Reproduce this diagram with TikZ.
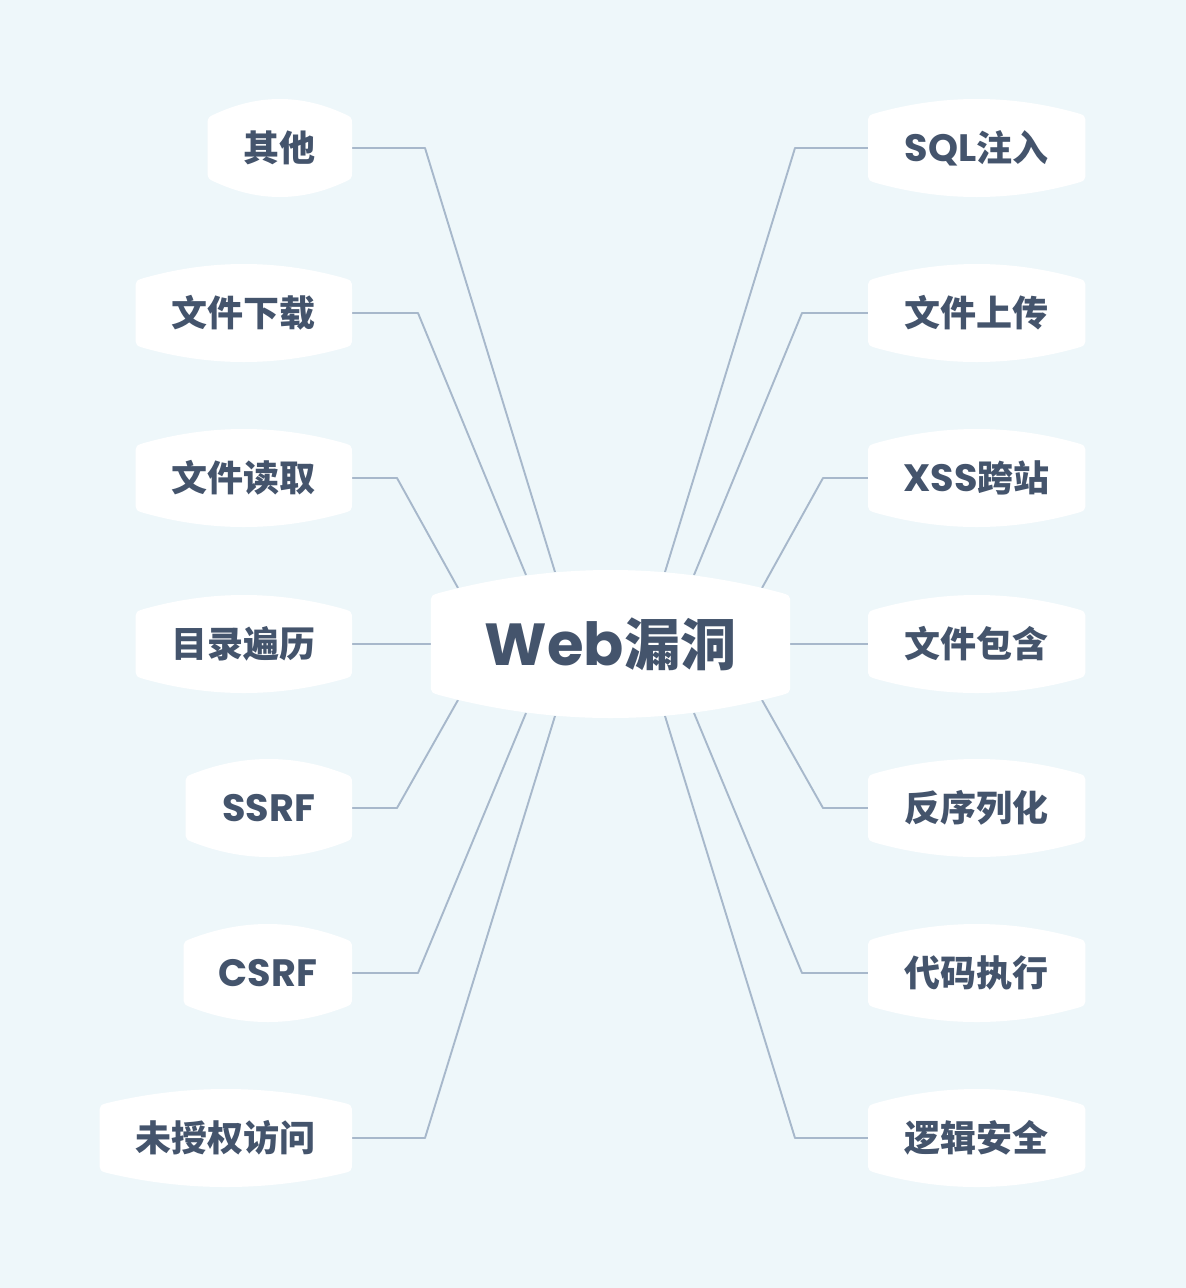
\documentclass[tikz,border=0pt]{standalone}
\usepackage{fontspec}
\newfontfamily\cjk{Noto Sans CJK SC}
\newfontfamily\latfont{Poppins}[Scale=1.06]
\newcommand\ltn[1]{{\latfont\bfseries #1}}
\usetikzlibrary{calc}
\definecolor{bgc}{HTML}{EEF7FA}
\definecolor{txt}{HTML}{44546C}
\definecolor{linec}{HTML}{A7B8CB}
\tikzset{
  lbl/.style={font=\cjk\bfseries\fontsize{36pt}{40pt}\selectfont, text=txt,
    inner xsep=0pt, inner ysep=0pt, minimum height=72pt},
  hubstyle/.style={font=\cjk\bfseries\fontsize{56pt}{60pt}\selectfont, text=txt,
    inner xsep=0pt, inner ysep=0pt, minimum height=104pt, minimum width=359pt},
  link/.style={draw=linec, line width=1.9pt, line join=round},
}
% #1 node name, #2 half height, #3 bulge, #4 corner radius
\newcommand\blob[4]{%
  \fill[white] let \p1=(#1.west), \p2=(#1.east),
    \n1={4*#3/(\x2-\x1-2*#4)}, \n2={(\x2-\x1-2*#4)/3} in
    (\x1,\y1+#2pt-#4pt)
    .. controls (\x1,\y1+#2pt-\n1*#4pt) .. (\x1+#4pt,\y1+#2pt)
    .. controls (\x1+#4pt+\n2*1pt,\y1+#2pt+4*#3pt/3) and (\x2-#4pt-\n2*1pt,\y1+#2pt+4*#3pt/3) .. (\x2-#4pt,\y1+#2pt)
    .. controls (\x2,\y1+#2pt-\n1*#4pt) .. (\x2,\y1+#2pt-#4pt)
    -- (\x2,\y1-#2pt+#4pt)
    .. controls (\x2,\y1-#2pt+\n1*#4pt) .. (\x2-#4pt,\y1-#2pt)
    .. controls (\x2-#4pt-\n2*1pt,\y1-#2pt-4*#3pt/3) and (\x1+#4pt+\n2*1pt,\y1-#2pt-4*#3pt/3) .. (\x1+#4pt,\y1-#2pt)
    .. controls (\x1,\y1-#2pt+\n1*#4pt) .. (\x1,\y1-#2pt+#4pt)
    -- cycle;}
\begin{document}
\begin{tikzpicture}[x=1pt,y=1pt]
\fill[bgc] (0,0) rectangle (1186,-1288);
\useasboundingbox (0,0) rectangle (1186,-1288);
\path
  (610.5,-644) node[hubstyle] (hub) {\phantom{Web漏洞}}
  (352,-148)  node[lbl,anchor=east,minimum width=144pt] (l1) {\phantom{其他}}
  (352,-313)  node[lbl,anchor=east,minimum width=216pt] (l2) {\phantom{文件下载}}
  (352,-478)  node[lbl,anchor=east,minimum width=216pt] (l3) {\phantom{文件读取}}
  (352,-644)  node[lbl,anchor=east,minimum width=216pt] (l4) {\phantom{目录遍历}}
  (352,-808)  node[lbl,anchor=east,minimum width=166pt] (l5) {\phantom{SSRF}}
  (352,-973)  node[lbl,anchor=east,minimum width=168pt] (l6) {\phantom{CSRF}}
  (352,-1138) node[lbl,anchor=east,minimum width=252pt] (l7) {\phantom{未授权访问}}
  (868,-148)  node[lbl,anchor=west,minimum width=217pt] (r1) {\phantom{SQL注入}}
  (868,-313)  node[lbl,anchor=west,minimum width=217pt] (r2) {\phantom{文件上传}}
  (868,-478)  node[lbl,anchor=west,minimum width=217pt] (r3) {\phantom{XSS跨站}}
  (868,-644)  node[lbl,anchor=west,minimum width=217pt] (r4) {\phantom{文件包含}}
  (868,-808)  node[lbl,anchor=west,minimum width=217pt] (r5) {\phantom{反序列化}}
  (868,-973)  node[lbl,anchor=west,minimum width=217pt] (r6) {\phantom{代码执行}}
  (868,-1138) node[lbl,anchor=west,minimum width=217pt] (r7) {\phantom{逻辑安全}};
\coordinate (hL1) at ($(hub.center)+(-55.5,72)$);
\coordinate (hL2) at ($(hub.center)+(-84.5,69)$);
\coordinate (hL3) at ($(hub.center)+(-152.5,56)$);
\coordinate (hL5) at ($(hub.center)+(-152.5,-56)$);
\coordinate (hL6) at ($(hub.center)+(-84.5,-69)$);
\coordinate (hL7) at ($(hub.center)+(-55.5,-72)$);
\coordinate (hR1) at ($(hub.center)+(54.5,72)$);
\coordinate (hR2) at ($(hub.center)+(83.5,69)$);
\coordinate (hR3) at ($(hub.center)+(151.5,56)$);
\coordinate (hR5) at ($(hub.center)+(151.5,-56)$);
\coordinate (hR6) at ($(hub.center)+(83.5,-69)$);
\coordinate (hR7) at ($(hub.center)+(54.5,-72)$);
\draw[link] (l1.east) -- ++(73,0) -- (hL1);
\draw[link] (l2.east) -- ++(66,0) -- (hL2);
\draw[link] (l3.east) -- ++(45,0) -- (hL3);
\draw[link] (l4.east) -- (hub.west);
\draw[link] (l5.east) -- ++(45,0) -- (hL5);
\draw[link] (l6.east) -- ++(66,0) -- (hL6);
\draw[link] (l7.east) -- ++(73,0) -- (hL7);
\draw[link] (r1.west) -- ++(-73,0) -- (hR1);
\draw[link] (r2.west) -- ++(-66,0) -- (hR2);
\draw[link] (r3.west) -- ++(-45,0) -- (hR3);
\draw[link] (r4.west) -- (hub.east);
\draw[link] (r5.west) -- ++(-45,0) -- (hR5);
\draw[link] (r6.west) -- ++(-66,0) -- (hR6);
\draw[link] (r7.west) -- ++(-73,0) -- (hR7);
\blob{hub}{52}{22}{12}
\foreach \nn in {l1,l2,l3,l4,l5,l6,l7,r1,r2,r3,r4,r5,r6,r7}{\blob{\nn}{36}{13}{12}}
\node[hubstyle] at (hub.center) {\ltn{Web}漏洞};
\node[lbl] at (l1.center) {其他};
\node[lbl] at (l2.center) {文件下载};
\node[lbl] at (l3.center) {文件读取};
\node[lbl] at (l4.center) {目录遍历};
\node[lbl] at (l5.center) {\ltn{SSRF}};
\node[lbl] at (l6.center) {\ltn{CSRF}};
\node[lbl] at (l7.center) {未授权访问};
\node[lbl] at (r1.center) {\ltn{SQL}注入};
\node[lbl] at (r2.center) {文件上传};
\node[lbl] at (r3.center) {\ltn{XSS}跨站};
\node[lbl] at (r4.center) {文件包含};
\node[lbl] at (r5.center) {反序列化};
\node[lbl] at (r6.center) {代码执行};
\node[lbl] at (r7.center) {逻辑安全};
\end{tikzpicture}
\end{document}
